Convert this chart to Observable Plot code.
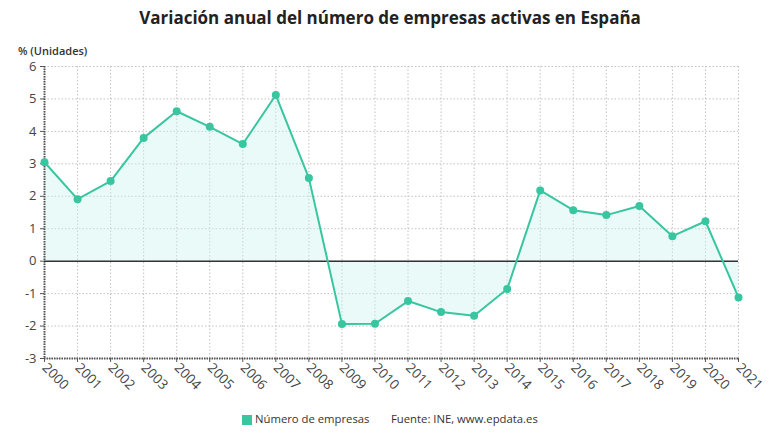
<!DOCTYPE html>
<html>
<head>
<meta charset="utf-8">
<script src="https://cdn.jsdelivr.net/npm/d3@7"></script>
<script src="https://cdn.jsdelivr.net/npm/@observablehq/plot@0.6"></script>
<style>
  body { margin: 0; background: #fff; font-family: "Open Sans", sans-serif; color: #222; }
  #wrap { width: 780px; height: 440px; position: relative; overflow: hidden; }
  h1 { margin: 0; position: absolute; top: 6px; left: 0; width: 780px; text-align: center;
       font-size: 17px; font-weight: 700; color: #222; }
  #unit { position: absolute; top: 43px; left: 18px; font-size: 11px; font-weight: 600; color: #333; }
  #chart { position: absolute; top: 58px; left: 0; }
  #legend { position: absolute; top: 411px; left: 0; width: 780px; font-size: 11.3px; color: #333; }
  #legend .sw { position: absolute; left: 242px; top: 4px; width: 10px; height: 10px; background: #38c6a0; }
  #legend .l1 { position: absolute; left: 255px; top: 0; }
  #legend .l2 { position: absolute; left: 391px; top: 0; }
</style>
</head>
<body>
<div id="wrap">
  <h1>Variación anual del número de empresas activas en España</h1>
  <div id="unit">% (Unidades)</div>
  <div id="chart"></div>
  <div id="legend"><span class="sw"></span><span class="l1">Número de empresas</span><span class="l2">Fuente: INE, www.epdata.es</span></div>
</div>
<script>
// Annual change (%) in the number of active companies in Spain
const years = [2000, 2001, 2002, 2003, 2004, 2005, 2006, 2007, 2008, 2009, 2010,
               2011, 2012, 2013, 2014, 2015, 2016, 2017, 2018, 2019, 2020, 2021];
const change = [3.05, 1.91, 2.47, 3.80, 4.62, 4.14, 3.61, 5.12, 2.56, -1.94, -1.93,
                -1.23, -1.57, -1.68, -0.86, 2.18, 1.57, 1.42, 1.70, 0.77, 1.23, -1.12];
const yTicks = [-3, -2, -1, 0, 1, 2, 3, 4, 5, 6];

const data = years.map((year, i) => ({year, value: change[i]}));
const teal = "#38c6a0";

const chart = Plot.plot({
  width: 780,
  height: 350,
  marginTop: 8,
  marginBottom: 50,
  marginLeft: 44,
  marginRight: 42,
  style: {fontFamily: "Open Sans, sans-serif", fontSize: "13px", color: "#444"},
  x: {domain: [2000, 2021], label: null},
  y: {domain: [-3, 6], label: null},
  marks: [
    Plot.gridX(years, {stroke: "#c4c0c4", strokeOpacity: 1, strokeDasharray: "1.5,2"}),
    Plot.gridY(yTicks, {stroke: "#c4c0c4", strokeOpacity: 1, strokeDasharray: "1.5,2"}),
    Plot.areaY(data, {x: "year", y1: 0, y2: "value", fill: "#cdf2ee", fillOpacity: 0.42}),
    Plot.ruleX([2000], {stroke: "#555", strokeWidth: 2, strokeDasharray: "1.5,1"}),
    Plot.ruleY([-3], {stroke: "#555", strokeWidth: 2, strokeDasharray: "1.5,1"}),
    Plot.ruleY([0], {stroke: "#333", strokeWidth: 1.5}),
    Plot.axisY(yTicks, {tickSize: 4, tickPadding: 4, stroke: "#555", fill: "#444", tickFormat: d => String(d)}),
    Plot.axisX(years, {tickSize: 4, tickPadding: 3, tickRotate: 45, fontSize: 13.5, stroke: "#555", fill: "#444", tickFormat: d => String(d)}),
    Plot.line(data, {x: "year", y: "value", stroke: teal, strokeWidth: 2}),
    Plot.dot(data, {x: "year", y: "value", r: 4, fill: teal})
  ]
});
document.getElementById("chart").append(chart);
</script>
</body>
</html>
